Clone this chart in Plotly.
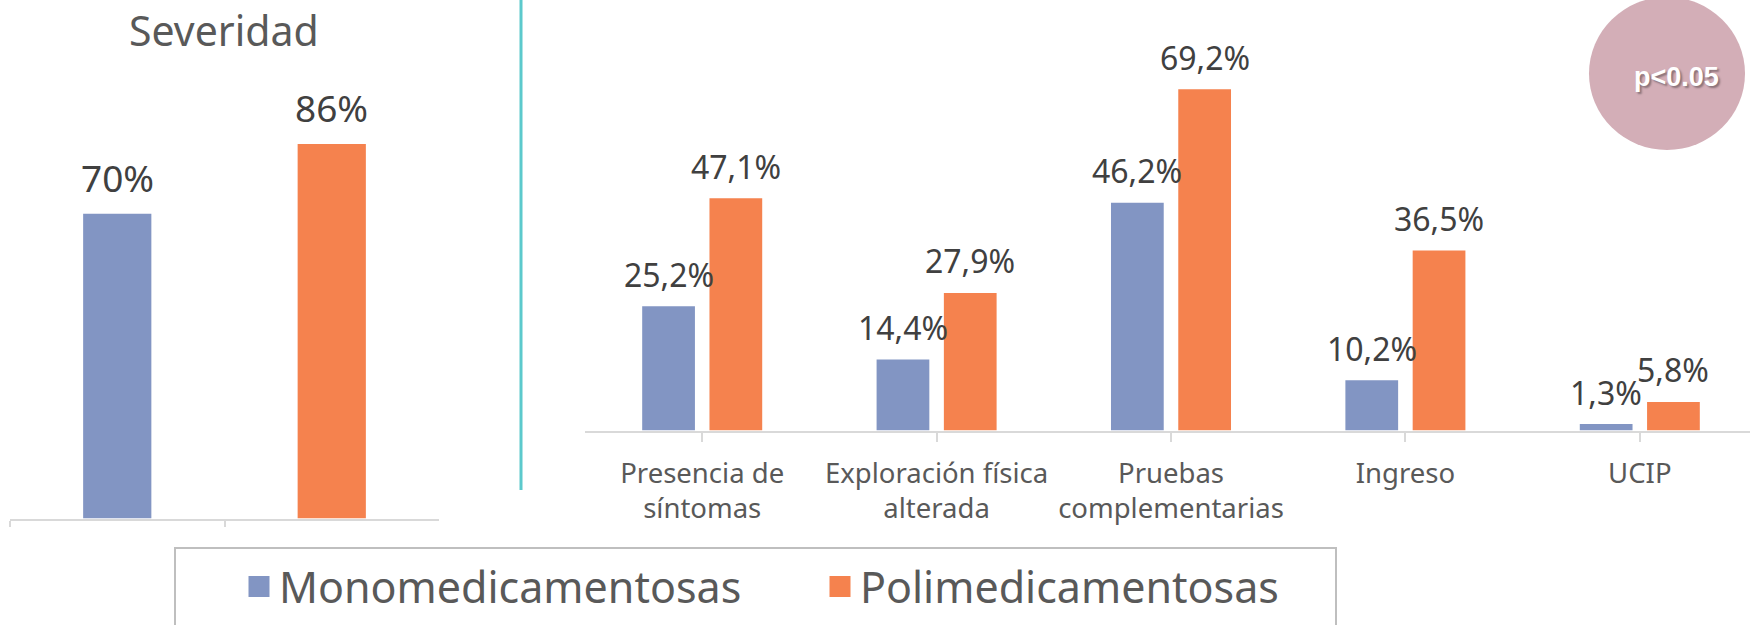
import plotly.graph_objects as go

# ---------------- data ----------------
series_names = ["Monomedicamentosas", "Polimedicamentosas"]
severidad_values = [70, 86]
severidad_labels = ["70%", "86%"]

categories = ["Presencia de<br>síntomas", "Exploración física<br>alterada",
              "Pruebas<br>complementarias", "Ingreso", "UCIP"]
mono_values = [25.2, 14.4, 46.2, 10.2, 1.3]
poli_values = [47.1, 27.9, 69.2, 36.5, 5.8]
mono_labels = ["25,2%", "14,4%", "46,2%", "10,2%", "1,3%"]
poli_labels = ["47,1%", "27,9%", "69,2%", "36,5%", "5,8%"]

title_left = "Severidad"
pvalue_text = "p<0.05"

# ---------------- style ----------------
W, H = 1750, 625
BLUE = "#8295C3"
ORANGE = "#F5824E"
LABEL_COLOR = "#404040"
AXIS_COLOR = "#D9D9D9"
TEXT_GREY = "#595959"
FONT = "Noto Sans"

def px_x(p):
    return p / W

def px_y(p):
    return (H - p) / H

# right chart bar geometry (category units)
bar_w = 0.225
half_sep = 0.1435

fig = go.Figure()

# left chart: one bar per series
fig.add_trace(go.Bar(
    x=series_names, y=severidad_values,
    marker=dict(color=[BLUE, ORANGE], line=dict(width=0)),
    width=0.318, showlegend=False, hoverinfo="skip",
    xaxis="x", yaxis="y"))

# right chart: grouped bars
fig.add_trace(go.Bar(
    x=list(range(len(categories))), y=mono_values, name=series_names[0],
    marker=dict(color=BLUE, line=dict(width=0)),
    width=bar_w, offset=-half_sep - bar_w / 2, showlegend=False,
    hoverinfo="skip", xaxis="x2", yaxis="y2"))
fig.add_trace(go.Bar(
    x=list(range(len(categories))), y=poli_values, name=series_names[1],
    marker=dict(color=ORANGE, line=dict(width=0)),
    width=bar_w, offset=half_sep - bar_w / 2, showlegend=False,
    hoverinfo="skip", xaxis="x2", yaxis="y2"))

# legend entries
for nm, col in zip(series_names, [BLUE, ORANGE]):
    fig.add_trace(go.Scatter(
        x=[None], y=[None], mode="markers", name=nm,
        marker=dict(symbol="square", size=16, color=col,
                    line=dict(color=col, width=5)),
        xaxis="x2", yaxis="y2", showlegend=True))

annotations = []
# left labels
for i, (v, t) in enumerate(zip(severidad_values, severidad_labels)):
    annotations.append(dict(
        x=i, y=v, xref="x", yref="y", text=t, showarrow=False,
        yanchor="middle", yshift=36,
        font=dict(family=FONT, size=37, color=LABEL_COLOR)))
# right labels
for i in range(len(categories)):
    annotations.append(dict(
        x=i - half_sep, y=mono_values[i], xref="x2", yref="y2",
        text=mono_labels[i], showarrow=False, yanchor="middle", yshift=32,
        font=dict(family=FONT, size=32, color=LABEL_COLOR)))
    annotations.append(dict(
        x=i + half_sep, y=poli_values[i], xref="x2", yref="y2",
        text=poli_labels[i], showarrow=False, yanchor="middle", yshift=32,
        font=dict(family=FONT, size=32, color=LABEL_COLOR)))

# title of left chart
annotations.append(dict(
    x=px_x(224), y=1, xref="paper", yref="paper", text=title_left,
    showarrow=False, xanchor="center", yanchor="top",
    font=dict(family=FONT, size=41, color=TEXT_GREY)))

# p-value text
annotations.append(dict(
    x=px_x(1676), y=px_y(77), xref="paper", yref="paper", text=pvalue_text,
    showarrow=False, xanchor="center", yanchor="middle",
    font=dict(family="Liberation Sans", size=27, color="white", weight="bold",
              shadow="2px 2px 2px rgba(0,0,0,0.35)")))

shapes = [
    # divider
    dict(type="line", xref="paper", yref="paper",
         x0=px_x(521), x1=px_x(521), y0=px_y(490), y1=1.01,
         line=dict(color="#5CC9CC", width=3)),
    # p-value circle
    dict(type="circle", xref="paper", yref="paper",
         x0=px_x(1589), x1=px_x(1745), y0=px_y(150), y1=px_y(-3),
         fillcolor="#D3AEB7", line=dict(width=0), layer="below"),
    # legend frame (runs past the bottom edge, as in the original)
    dict(type="rect", xref="paper", yref="paper",
         x0=px_x(175), x1=px_x(1336), y0=px_y(640), y1=px_y(548),
         line=dict(color="#BFBFBF", width=2), fillcolor="rgba(0,0,0,0)"),
]

n_cat = len(categories)
cat_px = 234.4
right_x0 = 585

fig.update_layout(
    width=W, height=H,
    margin=dict(l=0, r=0, t=0, b=0, autoexpand=False),
    paper_bgcolor="white", plot_bgcolor="white",
    barmode="overlay",
    font=dict(family=FONT, color=TEXT_GREY),
    xaxis=dict(domain=[px_x(10), px_x(439)], range=[-0.5, 1.5],
               showticklabels=False, showgrid=False, zeroline=False,
               showline=True, linecolor=AXIS_COLOR, linewidth=2,
               ticks="outside", tickson="boundaries", ticklen=6,
               tickcolor=AXIS_COLOR, tickwidth=2, fixedrange=True),
    yaxis=dict(domain=[px_y(518.5), px_y(83)], range=[0, 100],
               visible=False, fixedrange=True),
    xaxis2=dict(domain=[px_x(right_x0), 1],
                range=[-0.5, -0.5 + (W - right_x0) / cat_px],
                tickmode="array", tickvals=list(range(n_cat)),
                ticktext=categories,
                tickfont=dict(family=FONT, size=27.5, color=TEXT_GREY),
                showgrid=False, zeroline=False,
                showline=True, linecolor=AXIS_COLOR, linewidth=2,
                ticks="outside", tickson="boundaries", ticklen=9,
                tickcolor=AXIS_COLOR, tickwidth=2, ticklabelstandoff=8,
                fixedrange=True),
    yaxis2=dict(domain=[px_y(430.5), px_y(36)], range=[0, 80],
                visible=False, fixedrange=True, anchor="x2"),
    legend=dict(orientation="h", x=px_x(239), xanchor="left",
                y=px_y(552), yanchor="top",
                borderwidth=0, bgcolor="rgba(0,0,0,0)",
                font=dict(family=FONT, size=43, color=TEXT_GREY),
                entrywidth=536, entrywidthmode="pixels",
                itemsizing="trace"),
    annotations=annotations,
    shapes=shapes,
)
fig.update_layout(xaxis2_anchor="y2", yaxis_anchor="x")

fig.write_html("out.html",
               config={"displayModeBar": False, "staticPlot": True},
               post_script="document.body.style.margin='0px';"
                           "document.body.style.padding='0px';")
